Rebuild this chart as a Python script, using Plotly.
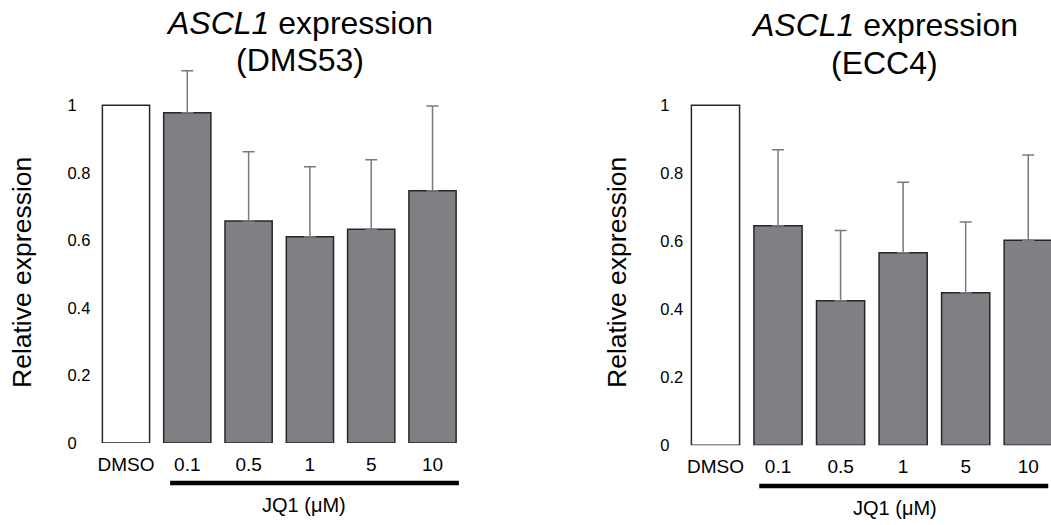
import plotly.graph_objects as go

# ---- data ----
categories = ["DMSO", "0.1", "0.5", "1", "5", "10"]
dms53_mean = [1.0, 0.978, 0.657, 0.611, 0.633, 0.747]
dms53_upper = [None, 1.102, 0.862, 0.818, 0.839, 0.998]
ecc4_mean = [1.0, 0.646, 0.425, 0.566, 0.449, 0.603]
ecc4_upper = [None, 0.869, 0.632, 0.774, 0.657, 0.854]
ytick_vals = [0, 0.2, 0.4, 0.6, 0.8, 1]
ytick_labels = ["0", "0.2", "0.4", "0.6", "0.8", "1"]
title_line1 = "<i>ASCL1</i> expression"
title_line2 = ["(DMS53)", "(ECC4)"]
y_title = "Relative expression"
group_label = "JQ1 (μM)"

FONT = "Liberation Sans, Arial, sans-serif"
GRAY = "#7f8084"
EDGE = "#262626"
ERRC = "#7a7a7a"

pad = "\u00a0\u00a0\u00a0"
ytext = [t + pad if len(t) == 1 else t for t in ytick_labels]

fig = go.Figure()

panels = [
    dict(mean=dms53_mean, upper=dms53_upper, xa="x", ya="y",
         xdom=[0.0907, 0.4407], ydom=[0.1562, 0.896], xr=[-0.5, 5.5],
         title_x=0.2854, t1=23, t2=60, ytitle_x=22 / 1051,
         line=(0.72, 5.43), line_y=1 - 483 / 525, lab_x=2.9, lab_y=1 - 505 / 525),
    dict(mean=ecc4_mean, upper=ecc4_upper, xa="x2", ya="y2",
         xdom=[0.651, 1.0], ydom=[0.1518, 0.8966], xr=[-0.5, 5.364],
         title_x=0.842, t1=25, t2=63, ytitle_x=617 / 1051,
         line=(0.70, 5.32), line_y=1 - 486 / 525, lab_x=2.87, lab_y=1 - 508 / 525),
]

for i, p in enumerate(panels):
    fig.add_trace(go.Bar(
        x=categories[:1], y=p["mean"][:1], xaxis=p["xa"], yaxis=p["ya"],
        marker=dict(color="white", line=dict(color=EDGE, width=1.5)),
        showlegend=False, hoverinfo="skip"))
    errs = [u - m for u, m in zip(p["upper"][1:], p["mean"][1:])]
    fig.add_trace(go.Bar(
        x=categories[1:], y=p["mean"][1:], xaxis=p["xa"], yaxis=p["ya"],
        marker=dict(color=GRAY, line=dict(color=EDGE, width=1.5)),
        error_y=dict(type="data", symmetric=False, array=errs,
                     arrayminus=[0] * len(errs), color=ERRC,
                     thickness=1.5, width=6),
        showlegend=False, hoverinfo="skip"))

    # titles (two lines)
    for txt, ypx in ((title_line1, p["t1"]), (title_line2[i], p["t2"])):
        fig.add_annotation(text=txt, xref="paper", yref="paper",
                           x=p["title_x"], y=1 - ypx / 525, xanchor="center", yanchor="middle",
                           showarrow=False, font=dict(family=FONT, size=32, color="black"))
    # y titles
    fig.add_annotation(text=y_title, xref="paper", yref="paper",
                       x=p["ytitle_x"], y=1 - 273 / 525, xanchor="center", yanchor="middle",
                       textangle=-90, showarrow=False,
                       font=dict(family=FONT, size=26.5, color="black"))
    # JQ1 bracket line
    fig.add_shape(type="line", xref=p["xa"], yref="paper",
                  x0=p["line"][0], x1=p["line"][1], y0=p["line_y"], y1=p["line_y"],
                  line=dict(color="black", width=4.5))
    fig.add_annotation(text=group_label, xref=p["xa"], yref="paper",
                       x=p["lab_x"], y=p["lab_y"], xanchor="center", yanchor="middle",
                       showarrow=False, font=dict(family=FONT, size=20, color="black"))

axis_common_x = dict(type="category", showline=False, showgrid=False, zeroline=False,
                     ticks="", tickfont=dict(family=FONT, size=19, color="black"),
                     ticklabelstandoff=8, automargin=False, fixedrange=True)
axis_common_y = dict(range=[0, 1.15], showline=False, showgrid=False, zeroline=False,
                     ticks="", tickvals=ytick_vals, ticktext=ytext,
                     tickfont=dict(family=FONT, size=16.5, color="black"),
                     automargin=False, fixedrange=True)

fig.update_layout(
    width=1051, height=525,
    margin=dict(l=0, r=0, t=0, b=0),
    paper_bgcolor="white", plot_bgcolor="white",
    barmode="overlay", bargap=0.23,
    xaxis=dict(domain=panels[0]["xdom"], range=panels[0]["xr"], anchor="y", **axis_common_x),
    yaxis=dict(domain=panels[0]["ydom"], anchor="x", ticklabelstandoff=4, **axis_common_y),
    xaxis2=dict(domain=panels[1]["xdom"], range=panels[1]["xr"], anchor="y2", **axis_common_x),
    yaxis2=dict(domain=panels[1]["ydom"], anchor="x2", ticklabelstandoff=0, **axis_common_y),
)

fig.write_html("out.html", config={"displayModeBar": False})

# remove default page margin so the figure sits at the window's origin
with open("out.html", "r", encoding="utf-8") as f:
    html = f.read()
html = html.replace("<head>", "<head><style>html,body{margin:0;padding:0;overflow:hidden;}</style>", 1)
with open("out.html", "w", encoding="utf-8") as f:
    f.write(html)
